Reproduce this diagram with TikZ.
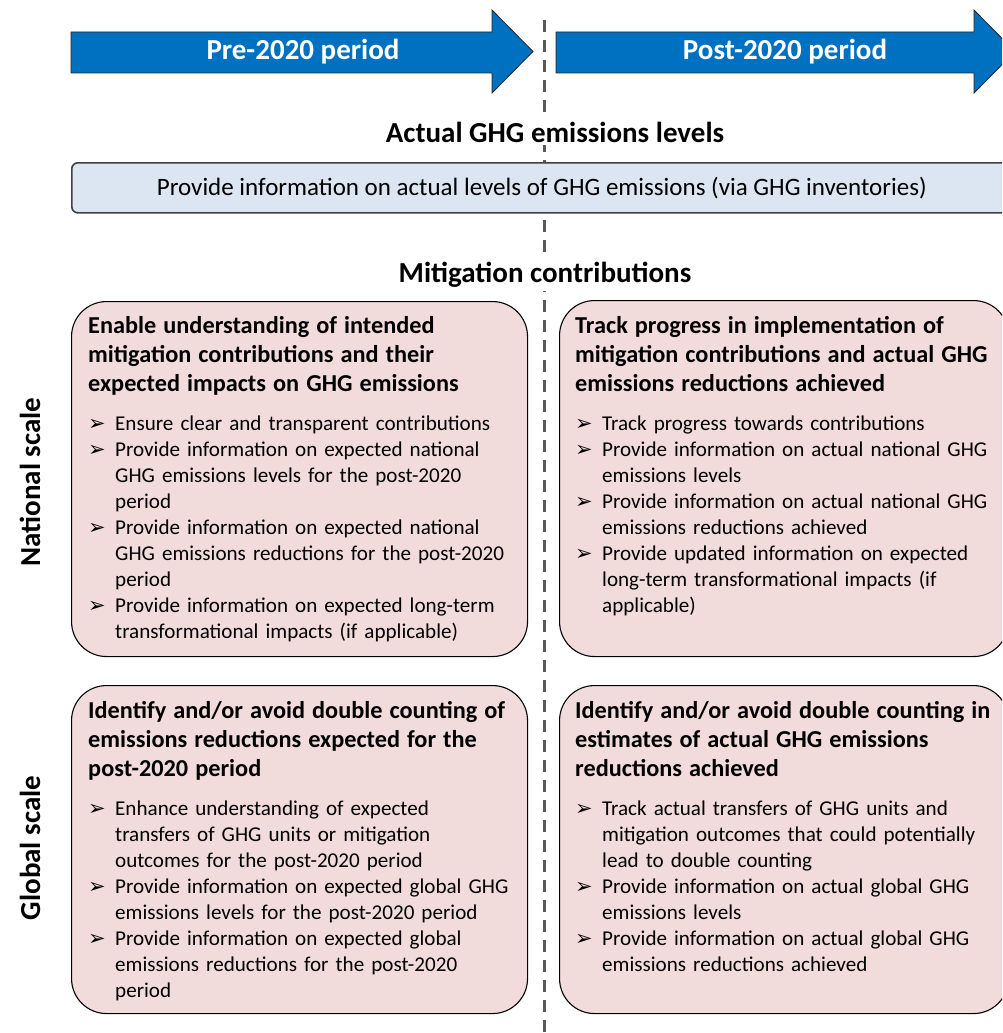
\documentclass[tikz,border=0pt]{standalone}
\usepackage{fontspec}
\setmainfont{Carlito}
\newfontfamily\symfont{DejaVu Sans}
\usepackage{tikz}
\usetikzlibrary{positioning}

\definecolor{arrowblue}{HTML}{0070C0}
\definecolor{infoblue}{HTML}{DCE6F2}
\definecolor{boxpink}{HTML}{F2DCDB}
\definecolor{dashgray}{HTML}{595959}

\newcommand{\hd}[1]{{\fontsize{24.3}{29}\selectfont\bfseries #1\par}\vspace{13pt}}
\newcommand{\itm}[1]{\par\hangindent=27pt\hangafter=1\noindent\makebox[27pt][l]{\symfont\fontsize{21}{26}\selectfont ➢}#1\par}

\tikzset{
  period/.style={fill=arrowblue, draw=black!85, line width=0.8pt},
  periodlabel/.style={text=white, inner sep=0pt, font=\fontsize{29}{34}\selectfont\bfseries},
  title/.style={fill=white, inner sep=3pt, font=\fontsize{29}{34}\selectfont\bfseries},
  infobox/.style={draw=black!75, fill=infoblue, line width=1.6pt, rounded corners=6pt,
    anchor=north west, inner sep=0pt, font=\fontsize{25}{30}\selectfont},
  goalbox/.style={draw=black, fill=boxpink, line width=1.1pt, rounded corners=35pt,
    anchor=north west, inner sep=0pt},
  goaltext/.style={anchor=north west, inner sep=0pt, text width=445pt, align=left,
    font=\fontsize{21.1}{26}\selectfont},
  scalelabel/.style={rotate=90, inner sep=0pt, font=\fontsize{29}{34}\selectfont\bfseries}
}

\begin{document}
\begin{tikzpicture}[x=1pt,y=-1pt]
\useasboundingbox (0,0) rectangle (1002,1033);
\clip (0,0) rectangle (1002,1033);

%divider
\coordinate (divtop) at (544,20);
\coordinate (divbot) at (544,1033);
\draw[dashgray, line width=3pt, dash pattern=on 12pt off 8pt] (divtop) -- (divbot);

%period arrows
\draw[period] (71,32) -- (492,32) -- (492,10) -- (533,51.5) -- (492,93) -- (492,73) -- (71,73) -- cycle;
\node[periodlabel] (pre) at (303,52) {Pre-2020 period};
\draw[period] (556,32) -- (974,32) -- (974,10) -- (1015,51.5) -- (974,93) -- (974,73) -- (556,73) -- cycle;
\node[periodlabel] (post) at (785,52) {Post-2020 period};

%actual levels
\node[title] (actualtitle) at (555,132) {Actual GHG emissions levels};
\node[infobox, minimum width=940pt, minimum height=50pt] (actualbox) at (71,162)
  {Provide information on actual levels of GHG emissions (via GHG inventories)};

\node[title] (mitititle) at (545,275) {Mitigation contributions};

%scale labels
\node[scalelabel] (national) at (30,482) {National scale};
\node[scalelabel] (global) at (30,848) {Global scale};

%boxes
\node[goalbox, minimum width=456pt, minimum height=355pt] (natpre) at (71,301) {};
\node[goalbox, minimum width=449pt, minimum height=356pt] (natpost) at (559,300) {};
\node[goalbox, minimum width=456pt, minimum height=328pt] (globpre) at (71,685) {};
\node[goalbox, minimum width=449pt, minimum height=328pt] (globpost) at (559,685) {};

\node[goaltext] (natpretxt) at (88,316) {%
  \hd{Enable understanding of intended\\mitigation contributions and their\\expected impacts on GHG emissions}
  \itm{Ensure clear and transparent contributions}
  \itm{Provide information on expected national\newline GHG emissions levels for the post-2020\newline period}
  \itm{Provide information on expected national\newline GHG emissions reductions for the post-2020\newline period}
  \itm{Provide information on expected long-term\newline transformational impacts (if applicable)}};

\node[goaltext] (natposttxt) at (575,316) {%
  \hd{Track progress in implementation of\\mitigation contributions and actual GHG\\emissions reductions achieved}
  \itm{Track progress towards contributions}
  \itm{Provide information on actual national GHG\newline emissions levels}
  \itm{Provide information on actual national GHG\newline emissions reductions achieved}
  \itm{Provide updated information on expected\newline long-term transformational impacts (if\newline applicable)}};

\node[goaltext] (globpretxt) at (88,701) {%
  \hd{Identify and/or avoid double counting of\\emissions reductions expected for the\\post-2020 period}
  \itm{Enhance understanding of expected\newline transfers of GHG units or mitigation\newline outcomes for the post-2020 period}
  \itm{Provide information on expected global GHG\newline emissions levels for the post-2020 period}
  \itm{Provide information on expected global\newline emissions reductions for the post-2020\newline period}};

\node[goaltext] (globposttxt) at (575,701) {%
  \hd{Identify and/or avoid double counting in\\estimates of actual GHG emissions\\reductions achieved}
  \itm{Track actual transfers of GHG units and\newline mitigation outcomes that could potentially\newline lead to double counting}
  \itm{Provide information on actual global GHG\newline emissions levels}
  \itm{Provide information on actual global GHG\newline emissions reductions achieved}};

\end{tikzpicture}
\end{document}
